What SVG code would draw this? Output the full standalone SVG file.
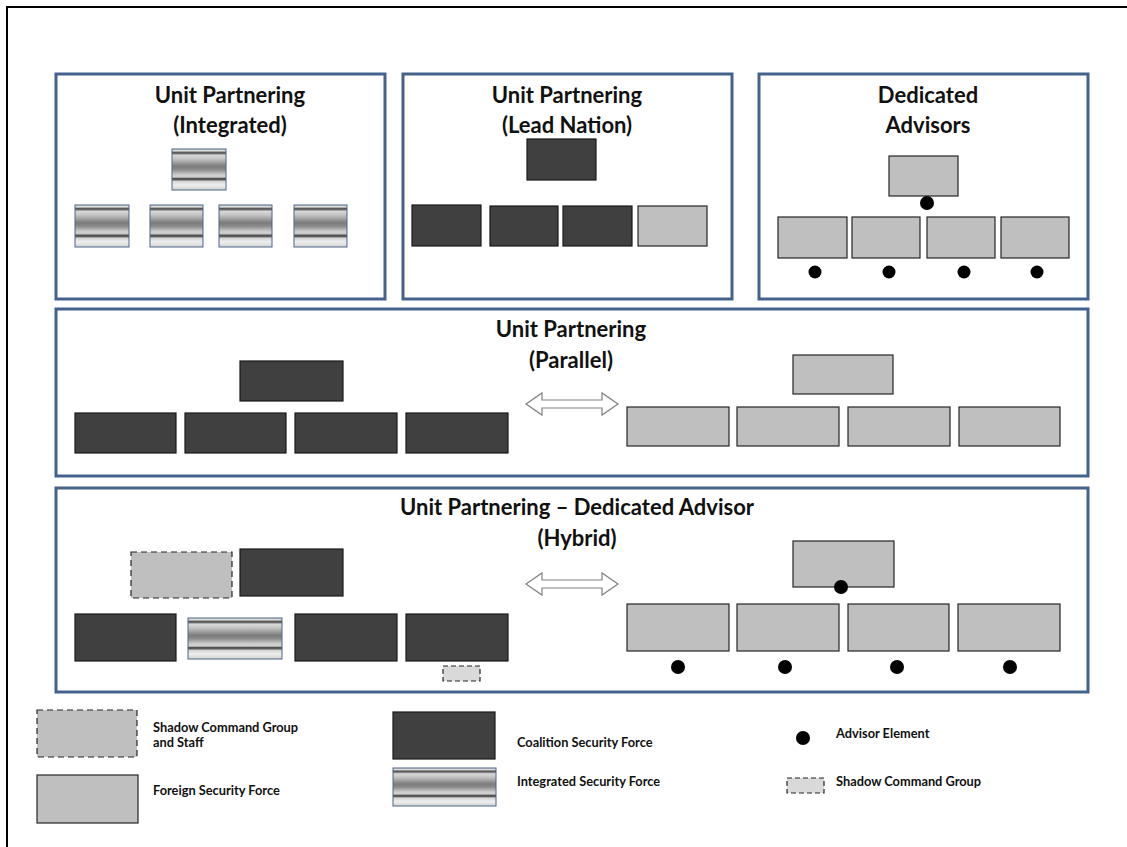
<svg xmlns="http://www.w3.org/2000/svg" width="1127" height="847" viewBox="0 0 1127 847">
<defs>
<linearGradient id="stripe" x1="0" y1="0" x2="0" y2="1">
<stop offset="0" stop-color="#cfcfcf"/>
<stop offset="0.05" stop-color="#e4e4e4"/>
<stop offset="0.075" stop-color="#555555"/>
<stop offset="0.11" stop-color="#6a6a6a"/>
<stop offset="0.15" stop-color="#d8d8d8"/>
<stop offset="0.24" stop-color="#c4c4c4"/>
<stop offset="0.42" stop-color="#7c7c7c"/>
<stop offset="0.50" stop-color="#8a8a8a"/>
<stop offset="0.64" stop-color="#d2d2d2"/>
<stop offset="0.69" stop-color="#c8c8c8"/>
<stop offset="0.715" stop-color="#4e4e4e"/>
<stop offset="0.75" stop-color="#5e5e5e"/>
<stop offset="0.79" stop-color="#d6d6d6"/>
<stop offset="0.88" stop-color="#eeeeee"/>
<stop offset="1" stop-color="#d2d2d2"/>
</linearGradient>
<style>
.panel{fill:#fff;stroke:#44638c;stroke-width:3}
.title{font-family:Lato,"Liberation Sans",sans-serif;font-weight:700;font-size:22px;fill:#111;text-anchor:middle}
.csf{fill:#404040;stroke:#1a1a1a;stroke-width:1.2}
.fsf{fill:#bfbfbf;stroke:#262626;stroke-width:1.2}
.isf{fill:url(#stripe);stroke:#4d6788;stroke-width:1}
.scg{fill:#bfbfbf;stroke:#262626;stroke-width:1.2;stroke-dasharray:6,4}
.scs{fill:#d9d9d9;stroke:#262626;stroke-width:1.2;stroke-dasharray:5,3}
.dot{fill:#000}
.arrow{fill:#fff;stroke:#808080;stroke-width:1.2}
.leg{font-family:Lato,"Liberation Sans",sans-serif;font-weight:700;font-size:12.8px;fill:#111}
</style>
</defs>
<rect x="0" y="0" width="1127" height="847" fill="#fff"/>
<rect x="7" y="7" width="1140" height="870" fill="none" stroke="#000" stroke-width="2"/>

<g id="panel-integrated">
<rect class="panel" x="56" y="74" width="329" height="225"/>
<text class="title" x="230" y="103">Unit Partnering</text>
<text class="title" x="230" y="133">(Integrated)</text>
<rect class="isf" x="172" y="149" width="54" height="41"/>
<rect class="isf" x="75" y="205" width="54" height="42"/>
<rect class="isf" x="150" y="205" width="53" height="42"/>
<rect class="isf" x="219" y="205" width="53" height="42"/>
<rect class="isf" x="294" y="205" width="53" height="42"/>
</g>

<g id="panel-lead-nation">
<rect class="panel" x="403" y="74" width="329" height="225"/>
<text class="title" x="567" y="103">Unit Partnering</text>
<text class="title" x="567" y="133">(Lead Nation)</text>
<rect class="csf" x="527" y="139" width="69" height="41"/>
<rect class="csf" x="412" y="205" width="69" height="41"/>
<rect class="csf" x="490" y="206" width="68" height="40"/>
<rect class="csf" x="563" y="206" width="69" height="40"/>
<rect class="fsf" x="638" y="206" width="69" height="40"/>
</g>

<g id="panel-dedicated-advisors">
<rect class="panel" x="759" y="74" width="329" height="225"/>
<text class="title" x="928" y="103">Dedicated</text>
<text class="title" x="928" y="133">Advisors</text>
<rect class="fsf" x="889" y="156" width="69" height="40"/>
<circle class="dot" cx="927" cy="203" r="7"/>
<rect class="fsf" x="778" y="217" width="69" height="41"/>
<rect class="fsf" x="852" y="217" width="68" height="41"/>
<rect class="fsf" x="927" y="217" width="68" height="41"/>
<rect class="fsf" x="1001" y="217" width="68" height="41"/>
<circle class="dot" cx="815" cy="272" r="6.5"/>
<circle class="dot" cx="889" cy="272" r="6.5"/>
<circle class="dot" cx="964" cy="272" r="6.5"/>
<circle class="dot" cx="1037" cy="272" r="6.5"/>
</g>

<g id="panel-parallel">
<rect class="panel" x="56" y="309" width="1032" height="167"/>
<text class="title" x="571" y="337">Unit Partnering</text>
<text class="title" x="571" y="368">(Parallel)</text>
<rect class="csf" x="240" y="361" width="103" height="40"/>
<rect class="csf" x="75" y="413" width="101" height="40"/>
<rect class="csf" x="185" y="413" width="101" height="40"/>
<rect class="csf" x="295" y="413" width="102" height="40"/>
<rect class="csf" x="406" y="413" width="102" height="40"/>
<rect class="fsf" x="793" y="355" width="100" height="39"/>
<rect class="fsf" x="627" y="407" width="102" height="39"/>
<rect class="fsf" x="737" y="407" width="102" height="39"/>
<rect class="fsf" x="848" y="407" width="102" height="39"/>
<rect class="fsf" x="959" y="407" width="101" height="39"/>
</g>

<g id="panel-hybrid">
<rect class="panel" x="56" y="488" width="1032" height="204"/>
<text class="title" x="577" y="515">Unit Partnering – Dedicated Advisor</text>
<text class="title" x="577" y="546">(Hybrid)</text>
<rect class="scg" x="131" y="552" width="101" height="46"/>
<rect class="csf" x="240" y="549" width="103" height="47"/>
<rect class="csf" x="75" y="614" width="101" height="47"/>
<rect class="isf" x="188" y="618" width="94" height="41"/>
<rect class="csf" x="295" y="614" width="102" height="47"/>
<rect class="csf" x="406" y="614" width="102" height="47"/>
<rect class="scs" x="443" y="666" width="37" height="15"/>
<rect class="fsf" x="793" y="541" width="101" height="46"/>
<circle class="dot" cx="841" cy="587" r="7"/>
<rect class="fsf" x="627" y="604" width="102" height="47"/>
<rect class="fsf" x="737" y="604" width="102" height="47"/>
<rect class="fsf" x="848" y="604" width="101" height="47"/>
<rect class="fsf" x="958" y="604" width="102" height="47"/>
<circle class="dot" cx="678" cy="667" r="7"/>
<circle class="dot" cx="785" cy="667" r="7"/>
<circle class="dot" cx="897" cy="667" r="7"/>
<circle class="dot" cx="1010" cy="667" r="7"/>
</g>

<g id="connectors">
<path class="arrow" d="M526,404 L542,393 L542,400 L602,400 L602,393 L618,404 L602,415 L602,408 L542,408 L542,415 Z"/>
<path class="arrow" d="M526,584 L542,573 L542,580 L602,580 L602,573 L618,584 L602,595 L602,588 L542,588 L542,595 Z"/>
</g>

<g id="legend">
<g id="legend-shadow-staff">
<rect class="scg" x="37" y="710" width="100" height="47"/>
<text class="leg" x="153" y="732">Shadow Command Group</text>
<text class="leg" x="153" y="747">and Staff</text>
</g>
<g id="legend-fsf">
<rect class="fsf" x="37" y="775" width="101" height="48"/>
<text class="leg" x="153" y="795">Foreign Security Force</text>
</g>
<g id="legend-csf">
<rect class="csf" x="393" y="712" width="102" height="47"/>
<text class="leg" x="517" y="747">Coalition  Security Force</text>
</g>
<g id="legend-isf">
<rect class="isf" x="393" y="768" width="103" height="38"/>
<text class="leg" x="517" y="786">Integrated Security Force</text>
</g>
<g id="legend-advisor">
<circle class="dot" cx="803" cy="738" r="7"/>
<text class="leg" x="836" y="738">Advisor Element</text>
</g>
<g id="legend-shadow">
<rect class="scs" x="787" y="778" width="37" height="15"/>
<text class="leg" x="836" y="786">Shadow Command Group</text>
</g>
</g>
</svg>
